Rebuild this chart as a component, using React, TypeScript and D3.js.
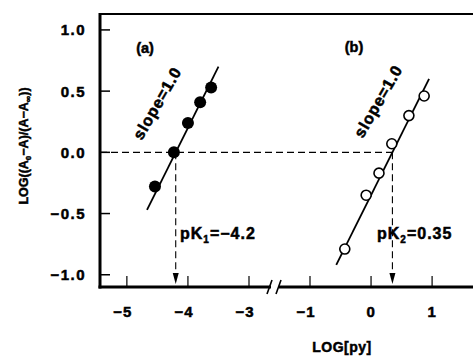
import * as d3 from "d3";

// broken x axis: -5..-3 then -1..1
const xTicks = [-5, -4, -3, -1, 0, 1];
const yTicks = [-1.0, -0.5, 0.0, 0.5, 1.0];

const pointsA: [number, number][] = [
  [-4.54, -0.28],
  [-4.23, 0.0],
  [-4.0, 0.24],
  [-3.8, 0.41],
  [-3.62, 0.53],
];
const pointsB: [number, number][] = [
  [-0.43, -0.79],
  [-0.08, -0.35],
  [0.13, -0.17],
  [0.34, 0.07],
  [0.62, 0.3],
  [0.87, 0.46],
];
const fitA = [-4.67, -3.5]; // x range of the slope=1 line, y = x - pK
const fitB = [-0.57, 0.95];
const pK1 = -4.2;
const pK2 = 0.35;

const W = 473;
const H = 358;
const FONT = "'Liberation Sans', Arial, Helvetica, sans-serif";

export default function App() {
  const x = d3.scaleLinear().domain([-5.44, -3, -1, 1.67]).range([100, 249, 310, 473]);
  const y = d3.scaleLinear().domain([-1.1, 1.13]).range([287, 14]);
  const x0 = 100;
  const yb = y(-1.1);
  const yt = y(1.13);
  const fmtY = (v: number) => (v < 0 ? "\u2212" : "") + Math.abs(v).toFixed(1);
  const fmtX = (v: number) => (v < 0 ? "\u2212" : "") + Math.abs(v);
  const line = d3.line<[number, number]>().x(d => x(d[0])).y(d => y(d[1]));
  const fitLine = (r: number[], pk: number) =>
    line(r.map(v => [v, v - pk] as [number, number])) || "";
  const brk = 275;

  const arrow = (px: number) => {
    const tip = yb - 3;
    return (
      <g>
        <line x1={px} x2={px} y1={y(0)} y2={tip - 6} stroke="#000" strokeWidth={1.1} strokeDasharray="7,4" />
        <path d={`M${px},${tip} L${px - 3},${tip - 11} L${px + 3},${tip - 11} Z`} fill="#000" />
      </g>
    );
  };

  // heavy type like the original scan
  const heavy = { stroke: "#000", strokeWidth: 0.5 };

  return (
    <svg width={W} height={H} style={{ position: "absolute", left: 0, top: 0, background: "#fff" }}
      fontFamily={FONT} fontWeight="bold">
      {/* frame */}
      <line x1={x0} x2={W} y1={yt} y2={yt} stroke="#000" strokeWidth={2} />
      <line x1={x0} x2={x0} y1={yt - 1} y2={yb + 1.5} stroke="#000" strokeWidth={3} />
      <line x1={x0 - 1.5} x2={W} y1={yb} y2={yb} stroke="#000" strokeWidth={3} />
      {/* axis break */}
      <rect x={brk - 4} y={yb - 3} width={8} height={6} fill="#fff" />
      <line x1={brk - 8} x2={brk - 3} y1={yb + 7} y2={yb - 7} stroke="#000" strokeWidth={1.6} />
      <line x1={brk + 1} x2={brk + 6} y1={yb + 7} y2={yb - 7} stroke="#000" strokeWidth={1.6} />

      {/* ticks */}
      {yTicks.map(t => (
        <g key={"y" + t}>
          <line x1={x0} x2={x0 + 10} y1={y(t)} y2={y(t)} stroke="#000" strokeWidth={1.5} />
          <text x={86} y={y(t)} dy="0.36em" textAnchor="end" fontSize={15} letterSpacing={1.5} {...heavy}>{fmtY(t)}</text>
        </g>
      ))}
      {xTicks.map(t => (
        <g key={"x" + t}>
          <line x1={x(t)} x2={x(t)} y1={yb} y2={yb - 11} stroke="#000" strokeWidth={1.2} />
          <text x={x(t) - (t < 0 ? 4 : 0)} y={317} textAnchor="middle" fontSize={15} letterSpacing={1} {...heavy}>{fmtX(t)}</text>
        </g>
      ))}

      {/* axis titles */}
      <text x={342} y={352} textAnchor="middle" fontSize={14} letterSpacing={0.5} {...heavy}>LOG[py]</text>
      <text transform={`translate(28,146) rotate(-90)`} textAnchor="middle" fontSize={12.5} {...heavy}>
        LOG((A<tspan fontSize={8} dy={3}>0</tspan><tspan dy={-3}>{"\u2212"}A)/(A{"\u2212"}A</tspan>
        <tspan fontSize={9} dy={3}>{"\u221e"}</tspan><tspan dy={-3}>))</tspan>
      </text>

      {/* reference lines */}
      <line x1={x0} x2={x(pK2)} y1={y(0)} y2={y(0)} stroke="#000" strokeWidth={1.2} strokeDasharray="7,4" />
      {arrow(x(pK1))}
      {arrow(x(pK2))}

      {/* fits */}
      <path d={fitLine(fitA, pK1)} stroke="#000" strokeWidth={1.8} fill="none" />
      <path d={fitLine(fitB, pK2)} stroke="#000" strokeWidth={1.8} fill="none" />

      {pointsA.map((p, i) => (
        <circle key={"a" + i} cx={x(p[0])} cy={y(p[1])} r={6} fill="#000" />
      ))}
      {pointsB.map((p, i) => (
        <circle key={"b" + i} cx={x(p[0])} cy={y(p[1])} r={5} fill="#fff" stroke="#000" strokeWidth={1.6} />
      ))}

      {/* annotations */}
      <text x={145} y={53} textAnchor="middle" fontSize={14.5} {...heavy}>(a)</text>
      <text x={354} y={52} textAnchor="middle" fontSize={14.5} {...heavy}>(b)</text>
      <text transform="translate(162,106) rotate(-60)" textAnchor="middle" fontSize={16} letterSpacing={0.8} {...heavy}>slope=1.0</text>
      <text transform="translate(383,104) rotate(-60)" textAnchor="middle" fontSize={16} letterSpacing={0.8} {...heavy}>slope=1.0</text>
      <text x={180} y={239} fontSize={16} letterSpacing={1} {...heavy}>
        pK<tspan fontSize={10} dy={4}>1</tspan><tspan dy={-4}>={"\u2212"}4.2</tspan>
      </text>
      <text x={377} y={239} fontSize={16} letterSpacing={1} {...heavy}>
        pK<tspan fontSize={10} dy={4}>2</tspan><tspan dy={-4}>=0.35</tspan>
      </text>
    </svg>
  );
}
